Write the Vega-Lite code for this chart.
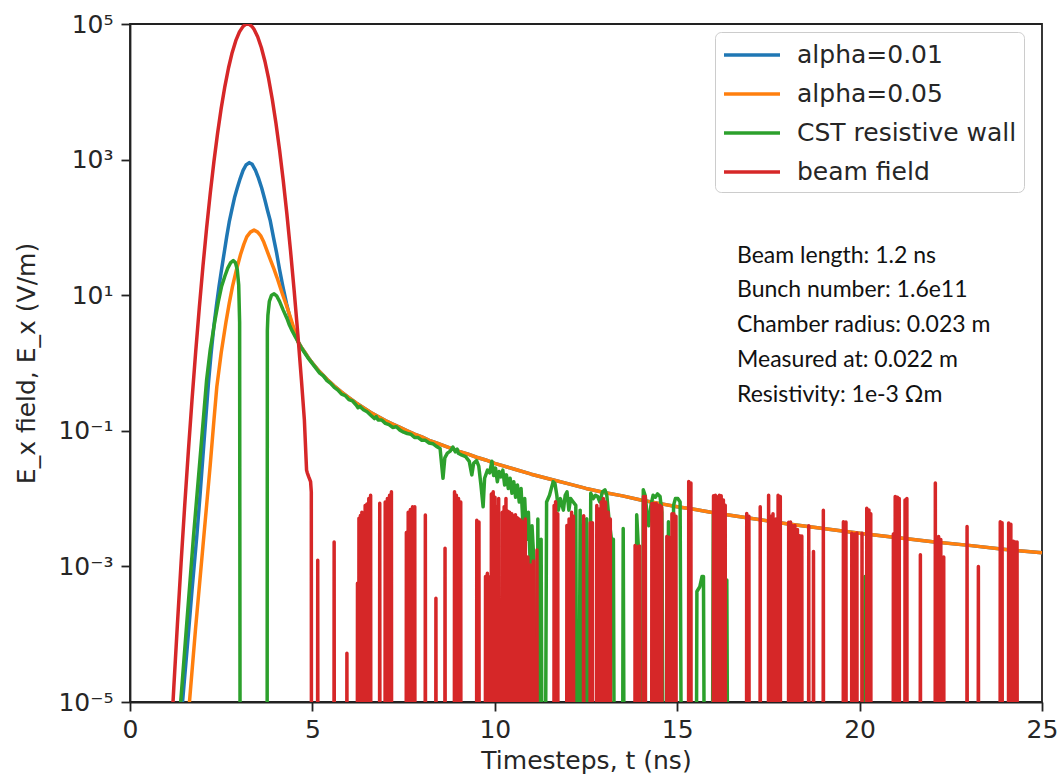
{
  "$schema": "https://vega.github.io/schema/vega-lite/v6.json",
  "width": 912,
  "height": 678,
  "autosize": {"type": "none"},
  "padding": {"left": 130, "top": 24, "right": 20, "bottom": 78},
  "background": "white",
  "datasets": {
    "blue": [
      {"t":1.35,"v":1e-6},{"t":1.44,"v":1e-5},{"t":1.6,"v":1e-4},{"t":1.7,"v":4.467e-4},{"t":1.83,"v":2.754e-3},{"t":1.92,"v":1.122e-2},{"t":2.0,"v":4.266e-2},{"t":2.08,"v":0.1585},{"t":2.15,"v":0.5012},{"t":2.22,"v":1.318},{"t":2.3,"v":3.548},{"t":2.37,"v":7.079},{"t":2.44,"v":13.49},{"t":2.51,"v":23.99},{"t":2.58,"v":41.69},{"t":2.65,"v":72.44},{"t":2.72,"v":120.2},{"t":2.8,"v":190.5},{"t":2.87,"v":281.8},{"t":2.94,"v":380.2},{"t":3.02,"v":524.8},{"t":3.1,"v":691.8},{"t":3.18,"v":831.8},{"t":3.27,"v":901.6},{"t":3.35,"v":851.1},{"t":3.44,"v":691.8},{"t":3.52,"v":537},{"t":3.61,"v":380.2},{"t":3.7,"v":251.2},{"t":3.77,"v":177.8},{"t":3.84,"v":128.8},{"t":3.93,"v":72.44},{"t":4.02,"v":41.69},{"t":4.1,"v":23.99},{"t":4.19,"v":13.49},{"t":4.29,"v":7.586},{"t":4.39,"v":4.571},{"t":4.5,"v":2.951},{"t":4.61,"v":2.042},
      {"t":4.7,"v":1.698},{"t":4.8,"v":1.413},{"t":4.9,"v":1.175},{"t":5.0,"v":1.0},{"t":5.2,"v":0.7413},{"t":5.4,"v":0.5754},{"t":5.6,"v":0.4571},{"t":5.8,"v":0.3715},{"t":6.0,"v":0.309},{"t":6.2,"v":0.257},{"t":6.4,"v":0.2188},{"t":6.6,"v":0.1862},{"t":6.8,"v":0.1622},{"t":7.0,"v":0.1413},{"t":7.2,"v":0.1259},{"t":7.4,"v":0.1122},{"t":7.6,"v":0.1},{"t":7.8,"v":0.08913},{"t":8.0,"v":0.08128},{"t":8.2,"v":0.07244},{"t":8.4,"v":0.06607},{"t":8.6,"v":0.06026},{"t":8.8,"v":0.05495},{"t":9.0,"v":0.05012},{"t":9.25,"v":0.04571},{"t":9.5,"v":0.04074},{"t":9.75,"v":0.03715},{"t":10.0,"v":0.03311},{"t":10.5,"v":0.02754},{"t":11.0,"v":0.02291},{"t":11.5,"v":0.0195},{"t":12.0,"v":0.0166},{"t":12.5,"v":0.01413},{"t":13.0,"v":0.0123},{"t":13.5,"v":0.01096},{"t":14.0,"v":0.00955},{"t":14.5,"v":0.008511},{"t":15.0,"v":0.007586},{"t":15.5,"v":0.006918},{"t":16.0,"v":0.006166},{"t":17.0,"v":0.005129},{"t":18.0,"v":0.004266},{"t":19.0,"v":0.003631},{"t":20.0,"v":0.00309},{"t":21.0,"v":0.00266},{"t":22.0,"v":0.002317},{"t":23.0,"v":0.002042},{"t":24.0,"v":0.001778},{"t":25.0,"v":0.001585}
    ],
    "orange": [
      {"t":1.55,"v":1e-6},{"t":1.63,"v":1e-5},{"t":1.8,"v":1.259e-4},{"t":2.0,"v":1.995e-3},{"t":2.1,"v":7.943e-3},{"t":2.2,"v":3.162e-2},{"t":2.3,"v":0.1413},{"t":2.38,"v":0.4467},{"t":2.5,"v":1.413},{"t":2.63,"v":3.981},{"t":2.72,"v":7.586},{"t":2.81,"v":13.49},{"t":2.92,"v":23.99},{"t":3.03,"v":39.81},{"t":3.12,"v":56.23},{"t":3.2,"v":72.44},{"t":3.3,"v":85.11},{"t":3.4,"v":91.2},{"t":3.5,"v":85.11},{"t":3.58,"v":75.86},{"t":3.67,"v":60.26},{"t":3.76,"v":44.67},{"t":3.85,"v":33.11},{"t":3.95,"v":23.99},{"t":4.03,"v":18.2},{"t":4.11,"v":13.49},{"t":4.19,"v":10},{"t":4.27,"v":7.586},{"t":4.35,"v":5.623},{"t":4.43,"v":4.169},{"t":4.52,"v":2.884},{"t":4.61,"v":2.042},
      {"t":4.7,"v":1.698},{"t":4.8,"v":1.413},{"t":4.9,"v":1.175},{"t":5.0,"v":1.0},{"t":5.2,"v":0.7413},{"t":5.4,"v":0.5754},{"t":5.6,"v":0.4571},{"t":5.8,"v":0.3715},{"t":6.0,"v":0.309},{"t":6.2,"v":0.257},{"t":6.4,"v":0.2188},{"t":6.6,"v":0.1862},{"t":6.8,"v":0.1622},{"t":7.0,"v":0.1413},{"t":7.2,"v":0.1259},{"t":7.4,"v":0.1122},{"t":7.6,"v":0.1},{"t":7.8,"v":0.08913},{"t":8.0,"v":0.08128},{"t":8.2,"v":0.07244},{"t":8.4,"v":0.06607},{"t":8.6,"v":0.06026},{"t":8.8,"v":0.05495},{"t":9.0,"v":0.05012},{"t":9.25,"v":0.04571},{"t":9.5,"v":0.04074},{"t":9.75,"v":0.03715},{"t":10.0,"v":0.03311},{"t":10.5,"v":0.02754},{"t":11.0,"v":0.02291},{"t":11.5,"v":0.0195},{"t":12.0,"v":0.0166},{"t":12.5,"v":0.01413},{"t":13.0,"v":0.0123},{"t":13.5,"v":0.01096},{"t":14.0,"v":0.00955},{"t":14.5,"v":0.008511},{"t":15.0,"v":0.007586},{"t":15.5,"v":0.006918},{"t":16.0,"v":0.006166},{"t":17.0,"v":0.005129},{"t":18.0,"v":0.004266},{"t":19.0,"v":0.003631},{"t":20.0,"v":0.00309},{"t":21.0,"v":0.00266},{"t":22.0,"v":0.002317},{"t":23.0,"v":0.002042},{"t":24.0,"v":0.001778},{"t":25.0,"v":0.001585}
    ],
    "green": [
      {"t":1.3,"v":1e-6},{"t":1.39,"v":1e-5},{"t":1.55,"v":1.318e-4},{"t":1.74,"v":2.754e-3},{"t":1.9,"v":2.884e-2},{"t":2.1,"v":0.5623},{"t":2.2,"v":1.585},{"t":2.33,"v":4.266},{"t":2.42,"v":7.943},{"t":2.51,"v":13.49},{"t":2.6,"v":19.05},{"t":2.68,"v":25.12},{"t":2.76,"v":30.2},{"t":2.83,"v":32.36},{"t":2.89,"v":30.2},{"t":2.94,"v":23.99},{"t":2.98,"v":14.13},{"t":3.005,"v":3.981},{"t":3.02,"v":1e-7},
      {"t":3.758,"v":1e-7},{"t":3.765,"v":3.02},{"t":3.78,"v":5.012},{"t":3.82,"v":8.128},{"t":3.88,"v":10},{"t":3.95,"v":10.47},{"t":4.02,"v":9.772},{"t":4.1,"v":8.128},{"t":4.2,"v":6.026},{"t":4.3,"v":4.571},{"t":4.37,"v":3.631},{"t":4.45,"v":2.951},{"t":4.53,"v":2.455},{"t":4.61,"v":2.042},
      {"t":4.7,"v":1.66},{"t":4.8,"v":1.38},{"t":4.9,"v":1.148},{"t":5.0,"v":0.9772},{"t":5.1,"v":0.8318},{"t":5.2,"v":0.7079},{"t":5.3,"v":0.6457},{"t":5.4,"v":0.5495},{"t":5.5,"v":0.5012},{"t":5.6,"v":0.4365},{"t":5.7,"v":0.3981},{"t":5.8,"v":0.3467},{"t":5.9,"v":0.3311},{"t":6.0,"v":0.2884},{"t":6.1,"v":0.2754},{"t":6.2,"v":0.2399},{"t":6.25,"v":0.2188},{"t":6.3,"v":0.2291},{"t":6.4,"v":0.2042},{"t":6.5,"v":0.1905},{"t":6.6,"v":0.1698},{"t":6.7,"v":0.1514},{"t":6.75,"v":0.1622},{"t":6.8,"v":0.1445},{"t":6.9,"v":0.1445},{"t":7.0,"v":0.1288},{"t":7.1,"v":0.123},{"t":7.2,"v":0.1122},{"t":7.3,"v":0.1148},{"t":7.4,"v":0.1023},{"t":7.5,"v":0.0955},{"t":7.6,"v":0.0912},{"t":7.7,"v":0.08913},{"t":7.8,"v":0.07943},{"t":7.9,"v":0.07943},{"t":8.0,"v":0.07244},{"t":8.1,"v":0.07244},{"t":8.2,"v":0.06607},{"t":8.3,"v":0.06457},{"t":8.4,"v":0.05888},{"t":8.5,"v":0.05495},{"t":8.58,"v":0.01995},{"t":8.63,"v":0.03981},{"t":8.7,"v":0.04677},{"t":8.78,"v":0.05012},{"t":8.85,"v":0.05754},{"t":8.92,"v":0.04898},{"t":8.97,"v":0.0537},
      {"t":9.0,"v":0.04677},{"t":9.1,"v":0.04365},{"t":9.2,"v":0.04169},{"t":9.3,"v":0.03548},{"t":9.37,"v":0.02239},{"t":9.42,"v":0.03311},{"t":9.5,"v":0.03631},{"t":9.56,"v":0.0302},{"t":9.62,"v":0.01585},{"t":9.68,"v":0.007586},{"t":9.72,"v":0.01995},{"t":9.8,"v":0.0263},{"t":9.86,"v":0.02399},{"t":9.92,"v":0.03548},{"t":9.97,"v":0.02188},{"t":10.02,"v":0.02818},{"t":10.07,"v":0.01778},{"t":10.12,"v":0.02512},{"t":10.17,"v":0.02089},{"t":10.22,"v":0.0263},{"t":10.27,"v":0.01585},{"t":10.32,"v":0.02239},{"t":10.37,"v":0.01413},{"t":10.42,"v":0.01995},{"t":10.47,"v":0.01202},{"t":10.52,"v":0.01778},{"t":10.57,"v":0.01047},{"t":10.62,"v":0.01585},{"t":10.67,"v":0.008913},{"t":10.72,"v":0.01413},{"t":10.77,"v":0.004467},{"t":10.82,"v":0.01},{"t":10.87,"v":0.002512},{"t":10.92,"v":0.00631},{"t":10.97,"v":0.001096},{"t":11.02,"v":0.003981},{"t":11.07,"v":0.001259},{"t":11.1,"v":1e-7},{"t":11.16,"v":1e-7},{"t":11.18,"v":0.005012},{"t":11.21,"v":1e-7},{"t":11.24,"v":1e-7},{"t":11.27,"v":0.002512},{"t":11.3,"v":1e-7},{"t":11.38,"v":1e-7},{"t":11.42,"v":0.008913},{"t":11.5,"v":0.01122},{"t":11.55,"v":0.01413},{"t":11.6,"v":0.01778},{"t":11.65,"v":0.0166},{"t":11.7,"v":0.01122},{"t":11.74,"v":0.006761},{"t":11.8,"v":0.01},{"t":11.88,"v":0.006761},{"t":11.93,"v":0.01122},{"t":11.98,"v":0.01259},{"t":12.03,"v":0.006761},{"t":12.08,"v":0.01},{"t":12.15,"v":0.008913},{"t":12.22,"v":0.007943},{"t":12.25,"v":1e-7},{"t":12.3,"v":1e-7},{"t":12.34,"v":0.006761},{"t":12.38,"v":1e-7},{"t":12.44,"v":1e-7},{"t":12.47,"v":0.004786},{"t":12.52,"v":0.005012},{"t":12.56,"v":1e-7},{"t":12.6,"v":1e-7},{"t":12.63,"v":0.01202},{"t":12.7,"v":0.01},{"t":12.76,"v":0.01122},{"t":12.82,"v":0.01072},{"t":12.88,"v":0.008913},{"t":12.95,"v":0.01259},{"t":13.02,"v":0.01349},{"t":13.07,"v":0.01122},{"t":13.13,"v":0.005012},{"t":13.2,"v":0.002455},{"t":13.25,"v":0.002512},{"t":13.28,"v":1e-7},{"t":13.5,"v":1e-7},{"t":13.52,"v":0.003631},{"t":13.55,"v":1e-7},{"t":13.86,"v":1e-7},{"t":13.89,"v":0.005754},{"t":13.93,"v":0.002188},{"t":13.96,"v":1e-7},{"t":14.04,"v":1e-7},{"t":14.07,"v":0.01349},{"t":14.12,"v":0.01122},{"t":14.17,"v":0.00631},{"t":14.22,"v":0.003981},{"t":14.28,"v":0.007943},{"t":14.34,"v":0.01122},{"t":14.4,"v":0.01047},{"t":14.46,"v":0.01175},{"t":14.53,"v":0.01072},{"t":14.58,"v":0.00631},{"t":14.62,"v":1e-7},{"t":14.73,"v":1e-7},{"t":14.76,"v":0.004571},{"t":14.8,"v":1e-7},{"t":14.88,"v":1e-7},{"t":14.9,"v":0.007943},{"t":14.95,"v":0.01},{"t":15.02,"v":0.01},{"t":15.08,"v":0.008913},{"t":15.12,"v":1e-7},{"t":15.52,"v":1e-7},{"t":15.54,"v":0.0004266},{"t":15.62,"v":0.0005012},{"t":15.68,"v":0.0007079},{"t":15.72,"v":0.0007079},{"t":15.75,"v":1e-7},{"t":15.96,"v":1e-7},{"t":15.99,"v":0.005754},{"t":16.03,"v":1e-7},{"t":16.33,"v":1e-7},{"t":16.36,"v":0.000631},{"t":16.39,"v":1e-7},{"t":20.12,"v":1e-7},{"t":20.15,"v":0.0007079},{"t":20.18,"v":1e-7},{"t":25,"v":1e-7}
    ],
    "red": [
      {"t":1.0,"v":1.48e-7},{"t":1.1,"v":1.62e-6},{"t":1.2,"v":1.62e-5},{"t":1.3,"v":1.41e-4},{"t":1.4,"v":1.12e-3},{"t":1.5,"v":7.94e-3},{"t":1.6,"v":0.0501},{"t":1.7,"v":0.285},{"t":1.8,"v":1.449},{"t":1.9,"v":6.58},{"t":2.0,"v":26.8},{"t":2.1,"v":97.5},{"t":2.2,"v":318},{"t":2.3,"v":931},{"t":2.4,"v":2432},{"t":2.5,"v":5702},{"t":2.6,"v":11940},{"t":2.7,"v":22440},{"t":2.8,"v":37760},{"t":2.9,"v":56750},{"t":3.0,"v":76600},{"t":3.1,"v":92260},{"t":3.16,"v":97950},{"t":3.22,"v":100000},{"t":3.28,"v":97950},{"t":3.35,"v":91000},{"t":3.4,"v":83560},{"t":3.5,"v":64860},{"t":3.6,"v":44980},{"t":3.7,"v":27990},{"t":3.8,"v":15600},{"t":3.9,"v":7762},{"t":4.0,"v":3467},{"t":4.1,"v":1384},{"t":4.2,"v":495.5},{"t":4.3,"v":158.9},{"t":4.4,"v":45.5},{"t":4.5,"v":11.7},{"t":4.6,"v":2.685},{"t":4.7,"v":0.5534},{"t":4.78,"v":0.1445},{"t":4.84,"v":0.0263},{"t":4.86,"v":0.024},{"t":4.9,"v":0.0209},{"t":4.95,"v":0.0178},{"t":4.97,"v":0.0126},{"t":4.975,"v":1e-7},
      {"t":5.14,"v":1e-7},{"t":5.146,"v":0.00123},{"t":5.152,"v":1e-7},
      {"t":5.59,"v":1e-7},{"t":5.596,"v":0.00229},{"t":5.602,"v":1e-7},
      {"t":5.94,"v":1e-7},{"t":5.946,"v":5.25e-5},{"t":5.952,"v":1e-7},
      {"t":6.23,"v":1e-7},{"t":6.236,"v":0.000562},{"t":6.242,"v":1e-7},
      {"t":6.27,"v":1e-7},{"t":6.276,"v":0.00513},{"t":6.282,"v":1e-7},
      {"t":6.31,"v":1e-7},{"t":6.316,"v":0.00562},{"t":6.322,"v":1e-7},
      {"t":6.35,"v":1e-7},{"t":6.356,"v":0.00631},{"t":6.362,"v":1e-7},
      {"t":6.44,"v":1e-7},{"t":6.446,"v":0.00794},{"t":6.452,"v":1e-7},
      {"t":6.49,"v":1e-7},{"t":6.496,"v":0.00832},{"t":6.502,"v":1e-7},
      {"t":6.54,"v":1e-7},{"t":6.546,"v":0.01},{"t":6.552,"v":1e-7},
      {"t":6.59,"v":1e-7},{"t":6.596,"v":0.0112},{"t":6.602,"v":1e-7},
      {"t":6.84,"v":1e-7},{"t":6.846,"v":0.00851},{"t":6.852,"v":1e-7},
      {"t":6.99,"v":1e-7},{"t":6.996,"v":0.00891},{"t":7.002,"v":1e-7},
      {"t":7.05,"v":1e-7},{"t":7.056,"v":0.01},{"t":7.062,"v":1e-7},
      {"t":7.11,"v":1e-7},{"t":7.116,"v":0.0112},{"t":7.122,"v":1e-7},
      {"t":7.16,"v":1e-7},{"t":7.166,"v":0.0126},{"t":7.172,"v":1e-7},
      {"t":7.57,"v":1e-7},{"t":7.576,"v":0.00316},{"t":7.582,"v":1e-7},
      {"t":7.62,"v":1e-7},{"t":7.626,"v":0.00631},{"t":7.632,"v":1e-7},
      {"t":7.68,"v":1e-7},{"t":7.686,"v":0.00692},{"t":7.692,"v":1e-7},
      {"t":7.74,"v":1e-7},{"t":7.746,"v":0.00759},{"t":7.752,"v":1e-7},
      {"t":7.8,"v":1e-7},{"t":7.806,"v":0.00759},{"t":7.812,"v":1e-7},
      {"t":8.09,"v":1e-7},{"t":8.096,"v":0.00575},{"t":8.102,"v":1e-7},
      {"t":8.38,"v":1e-7},{"t":8.386,"v":0.000339},{"t":8.392,"v":1e-7},
      {"t":8.63,"v":1e-7},{"t":8.636,"v":0.00186},{"t":8.642,"v":1e-7},
      {"t":8.89,"v":1e-7},{"t":8.896,"v":0.0126},{"t":8.902,"v":1e-7},
      {"t":8.94,"v":1e-7},{"t":8.946,"v":0.0112},{"t":8.952,"v":1e-7},
      {"t":9.0,"v":1e-7},{"t":9.006,"v":0.01},{"t":9.012,"v":1e-7},
      {"t":9.06,"v":1e-7},{"t":9.066,"v":0.0089},{"t":9.072,"v":1e-7},
      {"t":9.5,"v":1e-7},{"t":9.506,"v":0.00479},{"t":9.512,"v":1e-7},
      {"t":9.56,"v":1e-7},{"t":9.566,"v":0.0045},{"t":9.572,"v":1e-7},
      {"t":9.74,"v":1e-7},{"t":9.746,"v":0.000708},{"t":9.752,"v":1e-7},
      {"t":9.79,"v":1e-7},{"t":9.796,"v":0.00079},{"t":9.802,"v":1e-7},
      {"t":9.84,"v":1e-7},{"t":9.846,"v":0.0007},{"t":9.852,"v":1e-7},
      {"t":9.9,"v":1e-7},{"t":9.906,"v":0.0117},{"t":9.912,"v":1e-7},
      {"t":9.95,"v":1e-7},{"t":9.956,"v":0.0126},{"t":9.962,"v":1e-7},
      {"t":10.0,"v":1e-7},{"t":10.006,"v":0.0105},{"t":10.012,"v":1e-7},
      {"t":10.05,"v":1e-7},{"t":10.056,"v":0.0076},{"t":10.062,"v":1e-7},
      {"t":10.1,"v":1e-7},{"t":10.106,"v":0.01},{"t":10.112,"v":1e-7},
      {"t":10.2,"v":1e-7},{"t":10.206,"v":0.0063},{"t":10.212,"v":1e-7},
      {"t":10.25,"v":1e-7},{"t":10.256,"v":0.0076},{"t":10.262,"v":1e-7},
      {"t":10.3,"v":1e-7},{"t":10.306,"v":0.01},{"t":10.312,"v":1e-7},
      {"t":10.35,"v":1e-7},{"t":10.356,"v":0.0065},{"t":10.362,"v":1e-7},
      {"t":10.4,"v":1e-7},{"t":10.406,"v":0.0063},{"t":10.412,"v":1e-7},
      {"t":10.46,"v":1e-7},{"t":10.466,"v":0.006},{"t":10.472,"v":1e-7},
      {"t":10.51,"v":1e-7},{"t":10.516,"v":0.0055},{"t":10.522,"v":1e-7},
      {"t":10.56,"v":1e-7},{"t":10.566,"v":0.0058},{"t":10.572,"v":1e-7},
      {"t":10.61,"v":1e-7},{"t":10.616,"v":0.0052},{"t":10.622,"v":1e-7},
      {"t":10.66,"v":1e-7},{"t":10.666,"v":0.005},{"t":10.672,"v":1e-7},
      {"t":10.71,"v":1e-7},{"t":10.716,"v":0.0048},{"t":10.722,"v":1e-7},
      {"t":10.76,"v":1e-7},{"t":10.766,"v":0.0045},{"t":10.772,"v":1e-7},
      {"t":10.83,"v":1e-7},{"t":10.836,"v":0.005},{"t":10.842,"v":1e-7},
      {"t":10.9,"v":1e-7},{"t":10.906,"v":0.00138},{"t":10.912,"v":1e-7},
      {"t":10.97,"v":1e-7},{"t":10.976,"v":0.00105},{"t":10.982,"v":1e-7},
      {"t":11.05,"v":1e-7},{"t":11.056,"v":0.0012},{"t":11.062,"v":1e-7},
      {"t":11.15,"v":1e-7},{"t":11.156,"v":0.00174},{"t":11.162,"v":1e-7},
      {"t":11.62,"v":1e-7},{"t":11.626,"v":0.0079},{"t":11.632,"v":1e-7},
      {"t":11.66,"v":1e-7},{"t":11.666,"v":0.009},{"t":11.672,"v":1e-7},
      {"t":11.72,"v":1e-7},{"t":11.726,"v":0.006},{"t":11.732,"v":1e-7},
      {"t":11.97,"v":1e-7},{"t":11.976,"v":0.004},{"t":11.982,"v":1e-7},
      {"t":12.03,"v":1e-7},{"t":12.036,"v":0.005},{"t":12.042,"v":1e-7},
      {"t":12.1,"v":1e-7},{"t":12.106,"v":0.0063},{"t":12.112,"v":1e-7},
      {"t":12.15,"v":1e-7},{"t":12.156,"v":0.0055},{"t":12.162,"v":1e-7},
      {"t":12.43,"v":1e-7},{"t":12.436,"v":0.0056},{"t":12.442,"v":1e-7},
      {"t":12.61,"v":1e-7},{"t":12.616,"v":0.0044},{"t":12.622,"v":1e-7},
      {"t":12.67,"v":1e-7},{"t":12.676,"v":0.0044},{"t":12.682,"v":1e-7},
      {"t":12.79,"v":1e-7},{"t":12.796,"v":0.0079},{"t":12.802,"v":1e-7},
      {"t":12.85,"v":1e-7},{"t":12.856,"v":0.007},{"t":12.862,"v":1e-7},
      {"t":12.91,"v":1e-7},{"t":12.916,"v":0.0089},{"t":12.922,"v":1e-7},
      {"t":12.97,"v":1e-7},{"t":12.976,"v":0.01},{"t":12.982,"v":1e-7},
      {"t":13.03,"v":1e-7},{"t":13.036,"v":0.0089},{"t":13.042,"v":1e-7},
      {"t":13.1,"v":1e-7},{"t":13.106,"v":0.0063},{"t":13.112,"v":1e-7},
      {"t":13.16,"v":1e-7},{"t":13.166,"v":0.005},{"t":13.172,"v":1e-7},
      {"t":13.84,"v":1e-7},{"t":13.846,"v":0.00204},{"t":13.852,"v":1e-7},
      {"t":13.9,"v":1e-7},{"t":13.906,"v":0.00195},{"t":13.912,"v":1e-7},
      {"t":13.96,"v":1e-7},{"t":13.966,"v":0.002},{"t":13.972,"v":1e-7},
      {"t":14.07,"v":1e-7},{"t":14.076,"v":0.0107},{"t":14.082,"v":1e-7},
      {"t":14.12,"v":1e-7},{"t":14.126,"v":0.0107},{"t":14.132,"v":1e-7},
      {"t":14.3,"v":1e-7},{"t":14.306,"v":0.0085},{"t":14.312,"v":1e-7},
      {"t":14.35,"v":1e-7},{"t":14.356,"v":0.0085},{"t":14.362,"v":1e-7},
      {"t":14.42,"v":1e-7},{"t":14.426,"v":0.0085},{"t":14.432,"v":1e-7},
      {"t":14.47,"v":1e-7},{"t":14.476,"v":0.008},{"t":14.482,"v":1e-7},
      {"t":14.52,"v":1e-7},{"t":14.526,"v":0.008},{"t":14.532,"v":1e-7},
      {"t":14.57,"v":1e-7},{"t":14.576,"v":0.0075},{"t":14.582,"v":1e-7},
      {"t":14.71,"v":1e-7},{"t":14.716,"v":0.00275},{"t":14.722,"v":1e-7},
      {"t":14.77,"v":1e-7},{"t":14.776,"v":0.0027},{"t":14.782,"v":1e-7},
      {"t":14.85,"v":1e-7},{"t":14.856,"v":0.006},{"t":14.862,"v":1e-7},
      {"t":14.9,"v":1e-7},{"t":14.906,"v":0.006},{"t":14.912,"v":1e-7},
      {"t":14.96,"v":1e-7},{"t":14.966,"v":0.0055},{"t":14.972,"v":1e-7},
      {"t":15.31,"v":1e-7},{"t":15.316,"v":0.0178},{"t":15.322,"v":1e-7},
      {"t":15.37,"v":1e-7},{"t":15.376,"v":0.017},{"t":15.382,"v":1e-7},
      {"t":15.99,"v":1e-7},{"t":15.996,"v":0.011},{"t":16.002,"v":1e-7},
      {"t":16.04,"v":1e-7},{"t":16.046,"v":0.0112},{"t":16.052,"v":1e-7},
      {"t":16.1,"v":1e-7},{"t":16.106,"v":0.0106},{"t":16.112,"v":1e-7},
      {"t":16.15,"v":1e-7},{"t":16.156,"v":0.0112},{"t":16.162,"v":1e-7},
      {"t":16.2,"v":1e-7},{"t":16.206,"v":0.011},{"t":16.212,"v":1e-7},
      {"t":16.26,"v":1e-7},{"t":16.266,"v":0.0095},{"t":16.272,"v":1e-7},
      {"t":16.31,"v":1e-7},{"t":16.316,"v":0.008},{"t":16.322,"v":1e-7},
      {"t":16.9,"v":1e-7},{"t":16.906,"v":0.00603},{"t":16.912,"v":1e-7},
      {"t":16.96,"v":1e-7},{"t":16.966,"v":0.0055},{"t":16.972,"v":1e-7},
      {"t":17.27,"v":1e-7},{"t":17.276,"v":0.00759},{"t":17.282,"v":1e-7},
      {"t":17.5,"v":1e-7},{"t":17.506,"v":0.0112},{"t":17.512,"v":1e-7},
      {"t":17.56,"v":1e-7},{"t":17.566,"v":0.0055},{"t":17.572,"v":1e-7},
      {"t":17.62,"v":1e-7},{"t":17.626,"v":0.006},{"t":17.632,"v":1e-7},
      {"t":17.7,"v":1e-7},{"t":17.706,"v":0.005},{"t":17.712,"v":1e-7},
      {"t":17.76,"v":1e-7},{"t":17.766,"v":0.0112},{"t":17.772,"v":1e-7},
      {"t":17.82,"v":1e-7},{"t":17.826,"v":0.0107},{"t":17.832,"v":1e-7},
      {"t":18.05,"v":1e-7},{"t":18.056,"v":0.00447},{"t":18.062,"v":1e-7},
      {"t":18.1,"v":1e-7},{"t":18.106,"v":0.0045},{"t":18.112,"v":1e-7},
      {"t":18.16,"v":1e-7},{"t":18.166,"v":0.00398},{"t":18.172,"v":1e-7},
      {"t":18.22,"v":1e-7},{"t":18.226,"v":0.004},{"t":18.232,"v":1e-7},
      {"t":18.29,"v":1e-7},{"t":18.296,"v":0.0035},{"t":18.302,"v":1e-7},
      {"t":18.35,"v":1e-7},{"t":18.356,"v":0.00282},{"t":18.362,"v":1e-7},
      {"t":18.41,"v":1e-7},{"t":18.416,"v":0.0028},{"t":18.422,"v":1e-7},
      {"t":18.6,"v":1e-7},{"t":18.606,"v":0.00398},{"t":18.612,"v":1e-7},
      {"t":18.73,"v":1e-7},{"t":18.736,"v":0.00166},{"t":18.742,"v":1e-7},
      {"t":19.0,"v":1e-7},{"t":19.006,"v":0.00676},{"t":19.012,"v":1e-7},
      {"t":19.55,"v":1e-7},{"t":19.556,"v":0.00457},{"t":19.562,"v":1e-7},
      {"t":19.62,"v":1e-7},{"t":19.626,"v":0.0045},{"t":19.632,"v":1e-7},
      {"t":19.78,"v":1e-7},{"t":19.786,"v":0.00309},{"t":19.792,"v":1e-7},
      {"t":19.85,"v":1e-7},{"t":19.856,"v":0.003},{"t":19.862,"v":1e-7},
      {"t":19.92,"v":1e-7},{"t":19.926,"v":0.0031},{"t":19.932,"v":1e-7},
      {"t":20.06,"v":1e-7},{"t":20.066,"v":0.00309},{"t":20.072,"v":1e-7},
      {"t":20.19,"v":1e-7},{"t":20.196,"v":0.0072},{"t":20.202,"v":1e-7},
      {"t":20.25,"v":1e-7},{"t":20.256,"v":0.0068},{"t":20.262,"v":1e-7},
      {"t":20.3,"v":1e-7},{"t":20.306,"v":0.006},{"t":20.312,"v":1e-7},
      {"t":20.92,"v":1e-7},{"t":20.926,"v":0.003},{"t":20.932,"v":1e-7},
      {"t":20.97,"v":1e-7},{"t":20.976,"v":0.0107},{"t":20.982,"v":1e-7},
      {"t":21.03,"v":1e-7},{"t":21.036,"v":0.0105},{"t":21.042,"v":1e-7},
      {"t":21.08,"v":1e-7},{"t":21.086,"v":0.01},{"t":21.092,"v":1e-7},
      {"t":21.24,"v":1e-7},{"t":21.246,"v":0.0095},{"t":21.252,"v":1e-7},
      {"t":21.29,"v":1e-7},{"t":21.296,"v":0.01},{"t":21.302,"v":1e-7},
      {"t":21.66,"v":1e-7},{"t":21.666,"v":0.00148},{"t":21.672,"v":1e-7},
      {"t":22.07,"v":1e-7},{"t":22.076,"v":0.017},{"t":22.082,"v":1e-7},
      {"t":22.16,"v":1e-7},{"t":22.166,"v":0.00275},{"t":22.172,"v":1e-7},
      {"t":22.22,"v":1e-7},{"t":22.226,"v":0.0025},{"t":22.232,"v":1e-7},
      {"t":22.3,"v":1e-7},{"t":22.306,"v":0.00138},{"t":22.312,"v":1e-7},
      {"t":22.94,"v":1e-7},{"t":22.946,"v":0.00389},{"t":22.952,"v":1e-7},
      {"t":23.25,"v":1e-7},{"t":23.256,"v":0.001},{"t":23.262,"v":1e-7},
      {"t":23.85,"v":1e-7},{"t":23.856,"v":0.00457},{"t":23.862,"v":1e-7},
      {"t":23.9,"v":1e-7},{"t":23.906,"v":0.0044},{"t":23.912,"v":1e-7},
      {"t":24.08,"v":1e-7},{"t":24.086,"v":0.00437},{"t":24.092,"v":1e-7},
      {"t":24.14,"v":1e-7},{"t":24.146,"v":0.0042},{"t":24.152,"v":1e-7},
      {"t":24.21,"v":1e-7},{"t":24.216,"v":0.00234},{"t":24.222,"v":1e-7},
      {"t":24.26,"v":1e-7},{"t":24.266,"v":0.0023},{"t":24.272,"v":1e-7},
      {"t":24.31,"v":1e-7},{"t":24.316,"v":0.0023},{"t":24.322,"v":1e-7},
      {"t":25,"v":1e-7}
    ],
    "notes": [
      {"t":16.64,"v":29.85,"label":"Beam length: 1.2 ns"},
      {"t":16.64,"v":9.51,"label":"Bunch number: 1.6e11"},
      {"t":16.64,"v":2.9,"label":"Chamber radius: 0.023 m"},
      {"t":16.64,"v":0.881,"label":"Measured at: 0.022 m"},
      {"t":16.64,"v":0.2685,"label":"Resistivity: 1e-3 Ωm"}
    ]
  },
  "encoding": {
    "x": {
      "field": "t", "type": "quantitative",
      "scale": {"domain": [0, 25], "nice": false, "zero": false},
      "axis": {"values": [0, 5, 10, 15, 20, 25], "format": "d", "title": "Timesteps, t (ns)", "labelPadding": 6, "titlePadding": 6, "labelFlush": false, "labelOverlap": false}
    },
    "y": {
      "field": "v", "type": "quantitative",
      "scale": {"type": "log", "domain": [1e-5, 100000], "nice": false},
      "axis": {
        "values": [1e-5, 0.001, 0.1, 10, 1000, 100000],
        "labelExpr": "datum.value < 1e-4 ? '10⁻⁵' : datum.value < 1e-2 ? '10⁻³' : datum.value < 1 ? '10⁻¹' : datum.value < 100 ? '10¹' : datum.value < 10000 ? '10³' : '10⁵'",
        "title": "E_x field, E_x (V/m)", "labelPadding": 8, "titlePadding": 18, "labelFlush": false, "labelOverlap": false
      }
    }
  },
  "layer": [
    {
      "data": {"name": "blue"},
      "mark": {"type": "line", "clip": true, "strokeWidth": 3.5, "strokeJoin": "round"},
      "encoding": {"color": {"datum": "alpha=0.01", "type": "nominal", "scale": {"domain": ["alpha=0.01", "alpha=0.05", "CST resistive wall", "beam field"], "range": ["#1f77b4", "#ff7f0e", "#2ca02c", "#d62728"]}, "legend": {"title": null}}}
    },
    {
      "data": {"name": "orange"},
      "mark": {"type": "line", "clip": true, "strokeWidth": 3.5, "strokeJoin": "round"},
      "encoding": {"color": {"datum": "alpha=0.05", "type": "nominal"}}
    },
    {
      "data": {"name": "green"},
      "mark": {"type": "line", "clip": true, "strokeWidth": 3.5, "strokeJoin": "round"},
      "encoding": {"color": {"datum": "CST resistive wall", "type": "nominal"}}
    },
    {
      "data": {"name": "red"},
      "mark": {"type": "line", "clip": true, "strokeWidth": 3.5, "strokeJoin": "round"},
      "encoding": {"color": {"datum": "beam field", "type": "nominal"}}
    },
    {
      "data": {"name": "notes"},
      "mark": {"type": "text", "align": "left", "baseline": "alphabetic", "font": "Lato", "fontSize": 23, "color": "#111"},
      "encoding": {"text": {"field": "label"}}
    }
  ],
  "config": {
    "font": "DejaVu Sans",
    "view": {"stroke": "#222", "strokeWidth": 1.8},
    "axis": {
      "domainColor": "#222", "domainWidth": 1.8, "tickColor": "#222", "tickWidth": 1.8, "tickSize": 9, "grid": false,
      "labelFont": "DejaVu Sans", "labelFontSize": 25, "labelColor": "#262626",
      "titleFont": "DejaVu Sans", "titleFontSize": 25, "titleFontWeight": "normal", "titleColor": "#262626"
    },
    "legend": {
      "orient": "none", "legendX": 585, "legendY": 8,
      "symbolType": "M-1,0H3", "symbolSize": 784, "symbolStrokeWidth": 3.5, "symbolFillColor": "transparent",
      "labelFont": "DejaVu Sans", "labelFontSize": 25, "labelColor": "#262626", "labelOffset": 43, "labelLimit": 500,
      "padding": 7, "rowPadding": 10,
      "fillColor": "white", "strokeColor": "#cccccc", "cornerRadius": 6
    }
  }
}
